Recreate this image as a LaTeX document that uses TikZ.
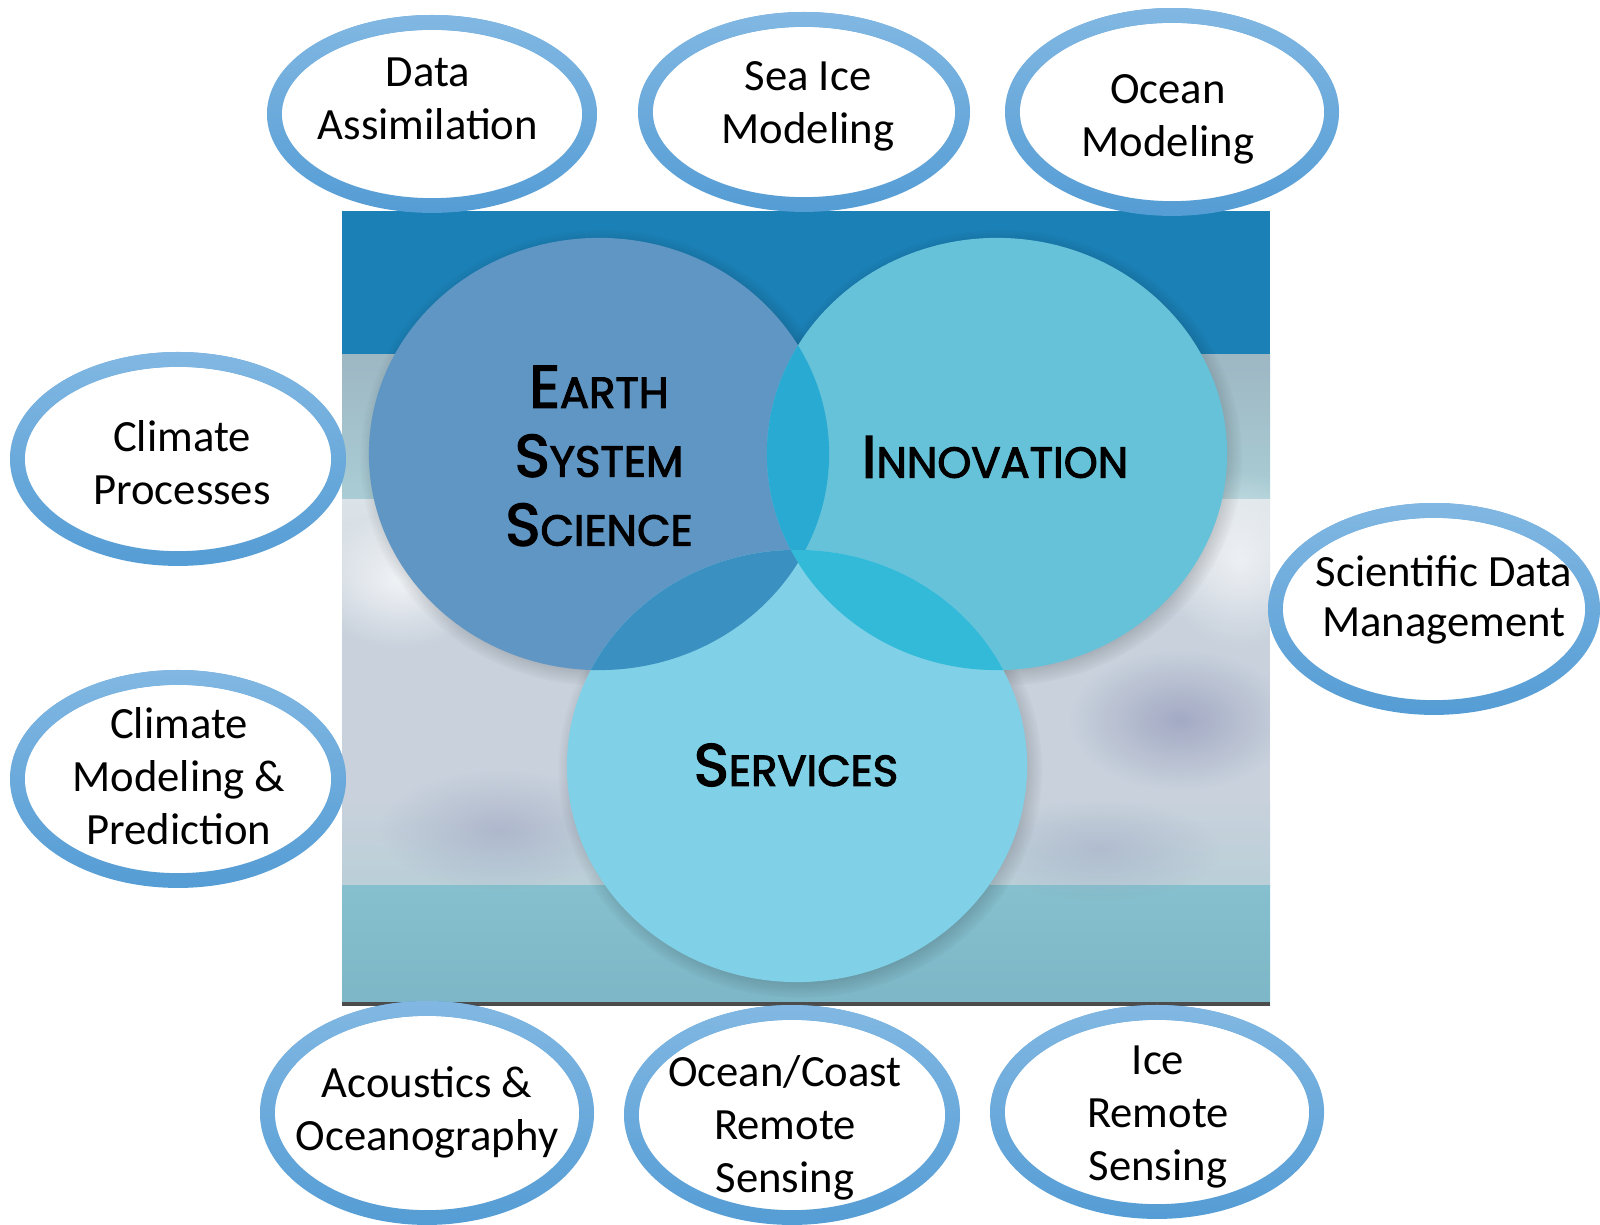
\documentclass[tikz,border=0pt]{standalone}
\usepackage{fontspec}
\setmainfont{Carlito}
\newfontfamily\titlefont{Poppins}[FakeBold=2.5]
\usetikzlibrary{shapes.geometric,fadings}
\definecolor{ringblue}{HTML}{82B8E3}
\definecolor{ringdark}{HTML}{559DD5}
\definecolor{skyband}{HTML}{1B80B5}
\definecolor{bgtealgray}{HTML}{9DB7C3}
\definecolor{bgteal}{HTML}{AACDD5}
\definecolor{bgpale}{HTML}{DCE3E8}
\definecolor{bgcloud}{HTML}{C8D1DC}
\definecolor{bgmist}{HTML}{BACFD8}
\definecolor{bgsea}{HTML}{86BFCD}
\definecolor{bgseadark}{HTML}{7DB6C6}
\definecolor{bgpurple}{HTML}{9AA0BE}
\definecolor{esscol}{HTML}{6096C4}
\definecolor{inncol}{HTML}{66C2D9}
\definecolor{srvcol}{HTML}{80D1E7}
\definecolor{lensEI}{HTML}{29AAD2}
\definecolor{lensES}{HTML}{3A90C0}
\definecolor{lensIS}{HTML}{33BAD9}
\tikzfading[name=softblob, inner color=transparent!0, outer color=transparent!100]
\newcommand\capword[2]{{\fontsize{17}{17}\selectfont #1}{\fontsize{12.3}{12.3}\selectfont #2}}
\tikzset{
        bubble/.style={ellipse, draw=ringdark, line width=4.2pt, fill=white, inner sep=0pt, outer sep=0pt,
          postaction={draw=ringblue, line width=4.2pt, path fading=south}},
        bubtext/.style={align=center, inner sep=0pt, font=\fontsize{12.7}{15.1}\selectfont},
        venn/.style={ellipse, inner sep=0pt, outer sep=0pt, minimum width=4.6cm, minimum height=4.32cm},
        venntext/.style={align=center, inner sep=0pt, font=\titlefont\fontsize{12}{19.6}\selectfont},
        cshadow/.style={black, opacity=0.3, path fading=circle with fuzzy edge 15 percent},
        blob/.style={path fading=softblob}
          }
\begin{document}
\begin{tikzpicture}[x=0.01cm, y=0.01cm]
        \useasboundingbox (0,0) rectangle (1600,-1225);
        \begin{scope}
          \clip (342,-211) rectangle (1270,-1005);
          \fill[skyband] (342,-211) rectangle (1270,-355);
          \shade[top color=bgtealgray, bottom color=bgteal] (342,-355) rectangle (1270,-500);
          \shade[top color=bgpale, bottom color=bgcloud] (342,-500) rectangle (1270,-620);
          \fill[bgcloud] (342,-620) rectangle (1270,-800);
          \shade[top color=bgcloud, bottom color=bgmist] (342,-800) rectangle (1270,-885);
          \shade[top color=bgsea, bottom color=bgseadark] (342,-885) rectangle (1270,-1005);
          \fill[white, blob, opacity=0.7] (400,-580) ellipse (90 and 70);
          \fill[white, blob, opacity=0.6] (1240,-560) ellipse (80 and 90);
          \fill[bgpurple, blob, opacity=0.8] (1180,-720) ellipse (110 and 70);
          \fill[bgpurple, blob, opacity=0.5] (500,-830) ellipse (120 and 60);
          \fill[bgpurple, blob, opacity=0.4] (1100,-850) ellipse (120 and 50);
          \foreach \cx/\cy in {602/458, 1000/458, 800/770}
            \fill[cshadow] (\cx,-\cy) ellipse (2.42cm and 2.28cm);
        \end{scope}
        \draw[black!70, line width=1pt] (342,-1004) -- (1270,-1004);

        \node[venn, fill=esscol] (ess) at (599,-454) {};
        \node[venn, fill=inncol] (inn) at (997,-454) {};
        \node[venn, fill=srvcol] (srv) at (797,-766) {};
        \begin{scope}
          \clip (ess.center) ellipse (2.3cm and 2.16cm);
          \fill[lensEI] (inn.center) ellipse (2.3cm and 2.16cm);
          \fill[lensES] (srv.center) ellipse (2.3cm and 2.16cm);
        \end{scope}
        \begin{scope}
          \clip (inn.center) ellipse (2.3cm and 2.16cm);
          \fill[lensIS] (srv.center) ellipse (2.3cm and 2.16cm);
        \end{scope}
        \node[venntext] (essT) at (599,-456) {\capword{E}{ARTH}\\\capword{S}{YSTEM}\\\capword{S}{CIENCE}};
        \node[venntext] (innT) at (995,-457) {\capword{I}{NNOVATION}};
        \node[venntext] (srvT) at (796,-765) {\capword{S}{ERVICES}};

        \node[bubble, minimum width=3.15cm, minimum height=1.83cm] (da) at (432,-114) {};
        \node[bubble, minimum width=3.17cm, minimum height=1.85cm] (si) at (804,-112) {};
        \node[bubble, minimum width=3.19cm, minimum height=1.93cm] (om) at (1172,-112) {};
        \node[bubble, minimum width=3.21cm, minimum height=1.99cm] (cp) at (178,-459) {};
        \node[bubble, minimum width=3.17cm, minimum height=1.97cm] (sdm) at (1434,-609) {};
        \node[bubble, minimum width=3.21cm, minimum height=2.03cm] (cmp) at (178,-779) {};
        \node[bubble, minimum width=3.19cm, minimum height=2.09cm] (ao) at (427,-1113) {};
        \node[bubble, minimum width=3.21cm, minimum height=2.05cm] (ocrs) at (792,-1115) {};
        \node[bubble, minimum width=3.19cm, minimum height=1.99cm] (irs) at (1157,-1112) {};

        \node[bubtext] (daT) at (428,-99) {Data\\Assimilation};
        \node[bubtext] (siT) at (808,-106) {Sea Ice\\Modeling};
        \node[bubtext] (omT) at (1168,-119) {Ocean\\Modeling};
        \node[bubtext] (cpT) at (182,-463) {Climate\\Processes};
        \node[bubtext, font=\fontsize{12.7}{14}\selectfont] (sdmT) at (1444,-600) {Scientific Data\\Management};
        \node[bubtext] (cmpT) at (179,-776) {Climate\\Modeling \&\\Prediction};
        \node[bubtext] (aoT) at (427,-1112) {Acoustics \&\\Oceanography};
        \node[bubtext] (ocrsT) at (785,-1128) {Ocean/Coast\\Remote\\Sensing};
        \node[bubtext] (irsT) at (1158,-1117) {Ice\\Remote\\Sensing};
\end{tikzpicture}
\end{document}
